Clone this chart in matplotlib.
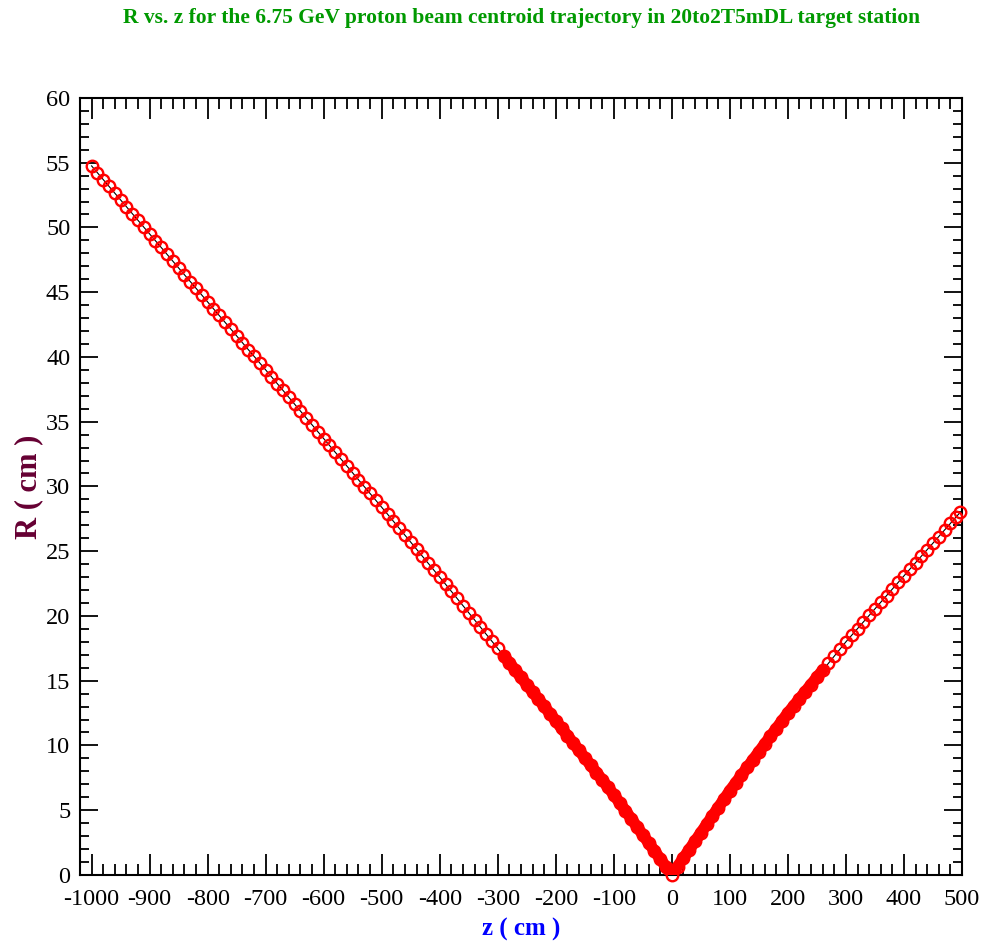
import numpy as np
import matplotlib
matplotlib.use("Agg")
import matplotlib.pyplot as plt
from matplotlib.ticker import MultipleLocator

plt.rcParams['font.family'] = ['Liberation Serif', 'DejaVu Serif']
plt.rcParams['axes.unicode_minus'] = False

# beam centroid R (cm), z every 10 cm
z_left = [-1000, -990, -980, -970, -960, -950, -940, -930, -920, -910,
          -900, -890, -880, -870, -860, -850, -840, -830, -820, -810,
          -800, -790, -780, -770, -760, -750, -740, -730, -720, -710,
          -700, -690, -680, -670, -660, -650, -640, -630, -620, -610,
          -600, -590, -580, -570, -560, -550, -540, -530, -520, -510,
          -500, -490, -480, -470, -460, -450, -440, -430, -420, -410,
          -400, -390, -380, -370, -360, -350, -340, -330, -320, -310,
          -300, -290, -280, -270, -260, -250, -240, -230, -220, -210,
          -200, -190, -180, -170, -160, -150, -140, -130, -120, -110,
          -100, -90, -80, -70, -60, -50, -40, -30, -20, -10, 0]
r_left = [54.75, 54.22, 53.70, 53.17, 52.65, 52.12, 51.60, 51.07, 50.55, 50.02,
          49.50, 48.97, 48.45, 47.92, 47.40, 46.87, 46.35, 45.82, 45.30, 44.77,
          44.25, 43.72, 43.20, 42.67, 42.15, 41.62, 41.10, 40.57, 40.05, 39.52,
          39.00, 38.47, 37.94, 37.41, 36.88, 36.35, 35.82, 35.29, 34.76, 34.23,
          33.70, 33.17, 32.64, 32.11, 31.58, 31.05, 30.52, 29.99, 29.46, 28.93,
          28.40, 27.86, 27.32, 26.78, 26.24, 25.70, 25.16, 24.62, 24.08, 23.54,
          23.00, 22.45, 21.90, 21.35, 20.80, 20.25, 19.70, 19.15, 18.60, 18.05,
          17.50, 16.94, 16.38, 15.82, 15.26, 14.70, 14.14, 13.58, 13.02, 12.46,
          11.90, 11.33, 10.76, 10.19, 9.62, 9.05, 8.48, 7.91, 7.34, 6.77,
          6.20, 5.58, 4.96, 4.34, 3.72, 3.10, 2.48, 1.86, 1.24, 0.62, 0.0]
z_right = [10, 20, 30, 40, 50, 60, 70, 80, 90, 100,
           110, 120, 130, 140, 150, 160, 170, 180, 190, 200,
           210, 220, 230, 240, 250, 260, 270, 280, 290, 300,
           310, 320, 330, 340, 350, 360, 370, 380, 390, 400,
           410, 420, 430, 440, 450, 460, 470, 480, 490, 497]
r_right = [0.65, 1.30, 1.95, 2.60, 3.25, 3.90, 4.55, 5.20, 5.85, 6.50,
           7.10, 7.70, 8.30, 8.90, 9.50, 10.10, 10.70, 11.30, 11.90, 12.50,
           13.05, 13.60, 14.15, 14.70, 15.25, 15.80, 16.35, 16.90, 17.45, 18.00,
           18.51, 19.02, 19.53, 20.04, 20.55, 21.06, 21.57, 22.08, 22.59, 23.10,
           23.60, 24.11, 24.61, 25.12, 25.62, 26.13, 26.63, 27.14, 27.64, 28.00]

z = np.array(z_left + z_right, dtype=float)
r = np.array(r_left + r_right)

fig = plt.figure(figsize=(9.85, 9.46), dpi=100)
ax = fig.add_axes([0.0812, 0.0751, 0.8954, 0.8214])

ax.plot(z, r, color='black', lw=0.8, zorder=2)
ax.plot(z, r, ls='none', marker='o', ms=8.3, mfc='none', mec='red', mew=1.7, zorder=3, clip_on=False)
# near the target the points are so dense the band looks solid
mid = (z >= -290) & (z <= 260)
ax.plot(z[mid], r[mid], color='red', lw=8.3, solid_capstyle='round', zorder=4)

ax.set_xlim(-1020, 500)
ax.set_ylim(0, 60)
ax.xaxis.set_major_locator(MultipleLocator(100))
ax.xaxis.set_minor_locator(MultipleLocator(20))
ax.yaxis.set_major_locator(MultipleLocator(5))
ax.yaxis.set_minor_locator(MultipleLocator(1))
ax.tick_params(axis='x', which='major', direction='in', length=15, width=1.3, top=True, labelsize=17.5, pad=10)
ax.tick_params(axis='x', which='minor', direction='in', length=8, width=1.3, top=True)
ax.tick_params(axis='y', which='major', direction='in', length=13, width=1.3, right=True, labelsize=17.5, pad=7)
ax.tick_params(axis='y', which='minor', direction='in', length=6.5, width=1.3, right=True)
for s in ax.spines.values():
    s.set_linewidth(1.5)

ax.set_xlabel('z ( cm )', color='#0000ff', fontsize=18, fontweight='bold', labelpad=6)
ax.set_ylabel('R ( cm )', color='#660033', fontsize=22, fontweight='bold', labelpad=2)
fig.text(0.529, 0.981, 'R vs. z for the 6.75 GeV proton beam centroid trajectory in 20to2T5mDL target station',
         color='#009900', fontsize=15.5, fontweight='bold', ha='center', va='center')

fig.savefig('out.png', dpi=100)
